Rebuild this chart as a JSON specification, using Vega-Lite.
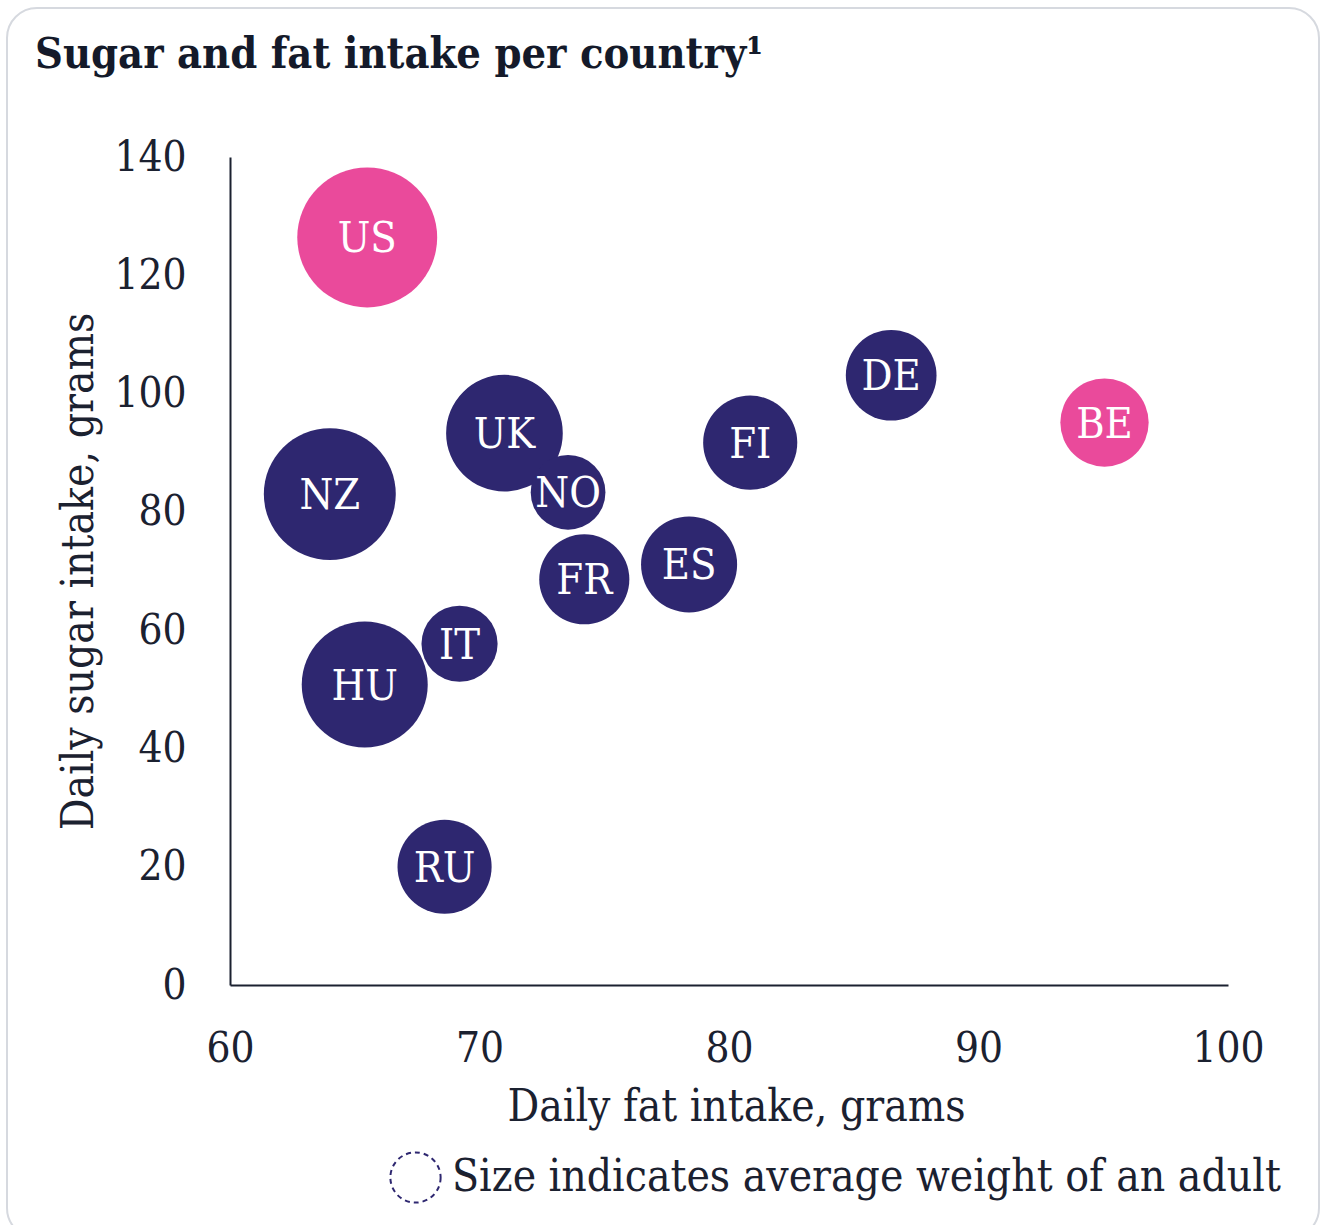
{
  "$schema": "https://vega.github.io/schema/vega-lite/v6.json",
  "width": 1312,
  "height": 1230,
  "autosize": {"type": "none"},
  "padding": {"left": 7, "top": 8, "right": 6, "bottom": -13},
  "background": "white",
  "config": {
    "view": {"stroke": "#d6d9df", "strokeWidth": 2, "cornerRadius": 30, "fill": "white"},
    "font": "DejaVu Serif Condensed, DejaVu Serif, serif"
  },
  "title": {
    "text": "Sugar and fat intake per country¹",
    "anchor": "start",
    "frame": "group",
    "baseline": "alphabetic",
    "offset": -103,
    "dx": 28,
    "fontSize": 43,
    "fontWeight": "bold",
    "color": "#141a2a"
  },
  "data": {
    "values": [
      {"code": "US", "fat": 65.5, "sugar": 126.4, "weight": 82.8, "group": "highlight"},
      {"code": "NZ", "fat": 64.0, "sugar": 83.0, "weight": 78.7, "group": "other"},
      {"code": "UK", "fat": 71.0, "sugar": 93.3, "weight": 71.5, "group": "other"},
      {"code": "NO", "fat": 73.55, "sugar": 83.3, "weight": 56.3, "group": "other"},
      {"code": "FR", "fat": 74.2, "sugar": 68.6, "weight": 61.1, "group": "other"},
      {"code": "IT", "fat": 69.2, "sugar": 57.7, "weight": 56.7, "group": "other"},
      {"code": "HU", "fat": 65.4, "sugar": 50.8, "weight": 75.8, "group": "other"},
      {"code": "RU", "fat": 68.6, "sugar": 20.0, "weight": 62.5, "group": "other"},
      {"code": "ES", "fat": 78.4, "sugar": 71.1, "weight": 63.2, "group": "other"},
      {"code": "FI", "fat": 80.85, "sugar": 91.7, "weight": 62.5, "group": "other"},
      {"code": "DE", "fat": 86.5, "sugar": 103.1, "weight": 61.3, "group": "other"},
      {"code": "BE", "fat": 95.05, "sugar": 95.1, "weight": 60.5, "group": "highlight"}
    ]
  },
  "encoding": {
    "x": {
      "field": "fat",
      "type": "quantitative",
      "scale": {"domain": [60, 100], "range": [223, 1221], "nice": false, "zero": false},
      "axis": {
        "orient": "bottom",
        "offset": -253,
        "values": [60, 70, 80, 90, 100],
        "grid": false,
        "ticks": false,
        "tickSize": 0,
        "domainColor": "#1b2130",
        "domainWidth": 2,
        "labelFontSize": 42,
        "labelColor": "#1b2130",
        "labelPadding": 43,
        "labelFlush": false,
        "title": "Daily fat intake, grams",
        "titleFontSize": 44,
        "titleFontWeight": "normal",
        "titleColor": "#1b2130",
        "titlePadding": 16,
        "titleX": 729
      }
    },
    "y": {
      "field": "sugar",
      "type": "quantitative",
      "scale": {"domain": [0, 140], "range": [977, 149], "nice": false},
      "axis": {
        "orient": "left",
        "offset": -223,
        "values": [0, 20, 40, 60, 80, 100, 120, 140],
        "grid": false,
        "ticks": false,
        "tickSize": 0,
        "domainColor": "#1b2130",
        "domainWidth": 2,
        "labelFontSize": 42,
        "labelColor": "#1b2130",
        "labelPadding": 44,
        "labelFlush": false,
        "title": "Daily sugar intake, grams",
        "titleFontSize": 44,
        "titleFontWeight": "normal",
        "titleColor": "#1b2130",
        "titlePadding": 12
      }
    }
  },
  "layer": [
    {
      "mark": {"type": "circle", "opacity": 1},
      "encoding": {
        "size": {
          "field": "weight",
          "type": "quantitative",
          "scale": {"domain": [55, 85], "range": [4900, 20736], "zero": false},
          "legend": {
            "values": [50.5],
            "labelExpr": "'Size indicates average weight of an adult'",
            "orient": "none",
            "legendX": 382,
            "legendY": 1143,
            "title": null,
            "padding": 0,
            "symbolType": "circle",
            "symbolFillColor": "white",
            "symbolStrokeColor": "#2e2770",
            "symbolStrokeWidth": 2,
            "symbolDash": [5, 4],
            "symbolOpacity": 1,
            "labelFontSize": 44,
            "labelColor": "#1b2130",
            "labelOffset": 10,
            "labelLimit": 1200
          }
        },
        "color": {
          "field": "group",
          "type": "nominal",
          "scale": {"domain": ["highlight", "other"], "range": ["#ea4a9b", "#2e2770"]},
          "legend": null
        }
      }
    },
    {
      "mark": {"type": "text", "color": "white", "fontSize": 43, "baseline": "middle", "align": "center", "dy": 2},
      "encoding": {
        "text": {"field": "code", "type": "nominal"}
      }
    }
  ]
}
